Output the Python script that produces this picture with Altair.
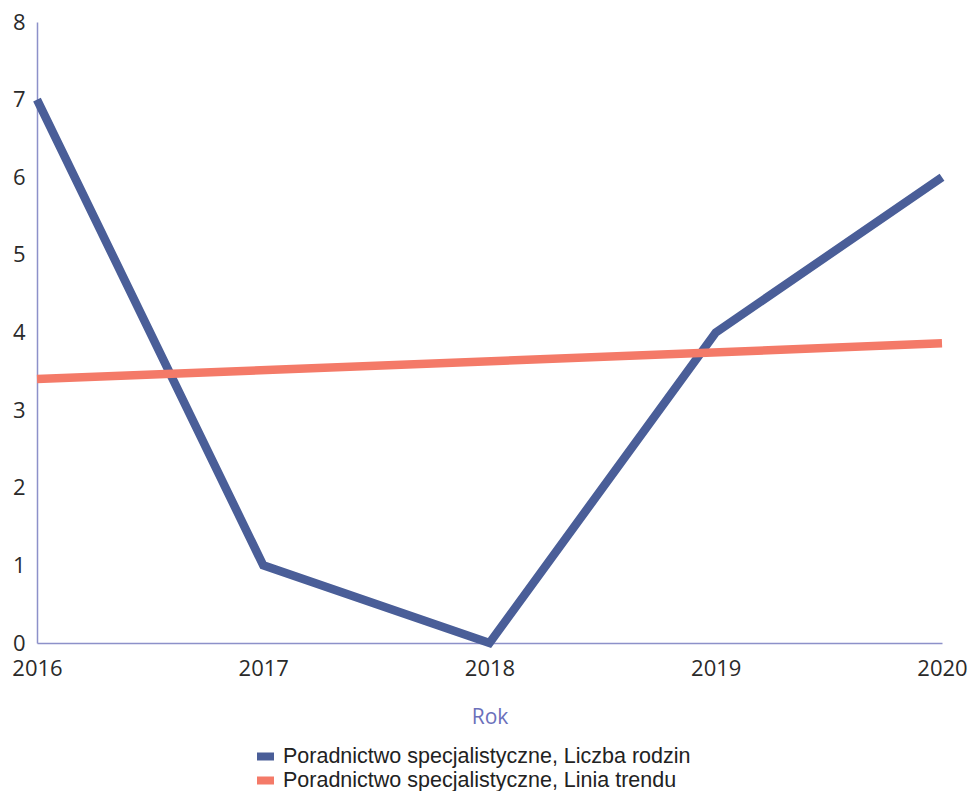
import altair as alt
import pandas as pd

years = [2016, 2017, 2018, 2019, 2020]
families = [7, 1, 0, 4, 6]
trend_years = [2016, 2020]
trend_values = [3.4, 3.86]

s1 = "Poradnictwo specjalistyczne, Liczba rodzin"
s2 = "Poradnictwo specjalistyczne, Linia trendu"

df = pd.DataFrame(
    {"Rok": years + trend_years,
     "Wartość": families + trend_values,
     "Seria": [s1] * len(years) + [s2] * len(trend_years)}
)

color = alt.Color(
    "Seria:N",
    scale=alt.Scale(domain=[s1, s2], range=["#4a5e98", "#f47a68"]),
    legend=alt.Legend(
        title=None,
        orient="none",
        legendX=216,
        legendY=724,
        symbolType="stroke",
        symbolSize=289,
        symbolStrokeWidth=8,
        clipHeight=21,
        labelFont="Liberation Sans",
        labelFontSize=21.5,
        labelColor="#222222",
        labelLimit=0,
        rowPadding=2,
        labelOffset=5,
    ),
)

chart = (
    alt.Chart(df)
    .mark_line(strokeWidth=8.5, strokeCap="butt", strokeJoin="miter")
    .encode(
        x=alt.X(
            "Rok:Q",
            scale=alt.Scale(domain=[2016, 2020], nice=False, zero=False),
            axis=alt.Axis(
                values=years, format="d", grid=False, ticks=False,
                labelFont="Open Sans", labelFontSize=22, labelColor="#2a2a2a",
                labelPadding=15, labelFlush=False,
                domainColor="#8d91c9", domainWidth=1.5,
                title="Rok", titleFont="Open Sans", titleFontSize=21,
                titleFontWeight="normal", titleColor="#6b70bb", titlePadding=27,
            ),
        ),
        y=alt.Y(
            "Wartość:Q",
            scale=alt.Scale(domain=[0, 8], nice=False),
            axis=alt.Axis(
                values=list(range(0, 9)), grid=False, ticks=False,
                labelFont="Open Sans", labelFontSize=22, labelColor="#2a2a2a",
                labelPadding=12, domainColor="#8d91c9", domainWidth=1.5,
                title=None,
            ),
        ),
        color=color,
        order=alt.Order("Rok:Q"),
    )
    .properties(
        width=905,
        height=621,
        padding={"left": 29, "top": 14, "right": 26, "bottom": 148},
        autosize=alt.AutoSizeParams(type="none"),
        background="white",
    )
    .configure_view(strokeWidth=0, stroke="transparent")
)

chart.save("out.html", embed_options={"renderer": "svg", "actions": False})
